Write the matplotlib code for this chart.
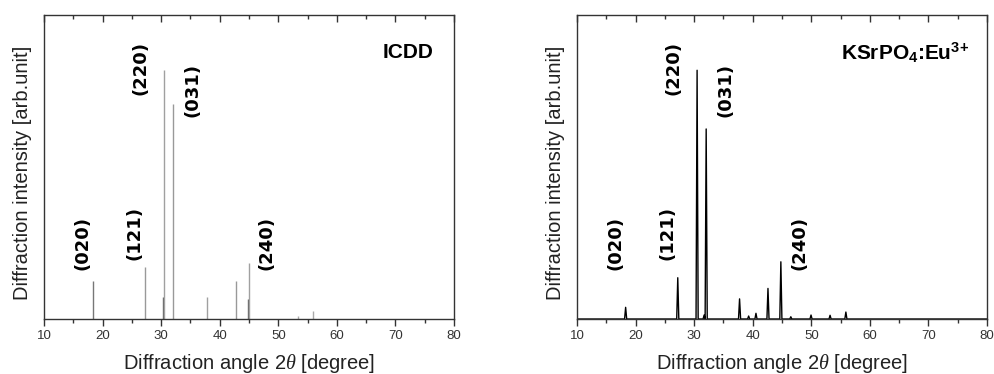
import matplotlib
matplotlib.use("Agg")
import matplotlib.pyplot as plt
from matplotlib.ticker import MultipleLocator

plt.rcParams["font.family"] = ["Liberation Sans", "DejaVu Sans"]
plt.rcParams["mathtext.fontset"] = "custom"
plt.rcParams["mathtext.rm"] = "Liberation Sans"
plt.rcParams["mathtext.bf"] = "Liberation Sans:bold"
plt.rcParams["mathtext.it"] = "Liberation Serif:italic"

# ICDD reference pattern (stick positions, relative intensity)
icdd_angle = [18.4, 27.3, 30.35, 30.55, 32.1, 37.9, 42.7, 44.85, 44.95, 53.3, 56.0]
icdd_intensity = [15.4, 21.0, 9.0, 100.0, 86.6, 9.0, 15.4, 7.9, 22.4, 1.2, 3.3]

# measured KSrPO4:Eu3+ peaks
meas_angle = [18.3, 27.2, 30.5, 31.7, 32.05, 37.75, 39.3, 40.55, 42.6, 44.8, 46.5, 49.95, 53.2, 55.9]
meas_intensity = [4.7, 16.6, 100.0, 1.6, 76.4, 8.1, 1.2, 2.3, 12.3, 23.0, 0.9, 1.6, 1.5, 2.8]

hkl_labels = ["(020)", "(121)", "(220)", "(031)", "(240)"]
hkl_x = [16.5, 25.5, 26.5, 35.4, 48.0]
hkl_y = [19.8, 23.8, 89.9, 81.2, 19.8]

XMIN, XMAX = 10, 80
YMAX = 122.2
STICK_COLORS = ["#777777", "#999999", "#666666", "#a0a0a0", "#999999",
                "#a0a0a0", "#999999", "#666666", "#a0a0a0", "#aaaaaa", "#aaaaaa"]


def profile(angles, heights, half_width=0.18):
    xs, ys = [XMIN], [0.0]
    for a, h in zip(angles, heights):
        xs += [a - half_width, a, a + half_width]
        ys += [0.0, h, 0.0]
    xs.append(XMAX)
    ys.append(0.0)
    return xs, ys


def style_axes(ax):
    ax.set_xlim(XMIN, XMAX)
    ax.set_ylim(0, YMAX)
    ax.set_yticks([])
    ax.xaxis.set_major_locator(MultipleLocator(10))
    ax.xaxis.set_minor_locator(MultipleLocator(5))
    ax.tick_params(axis="x", which="both", direction="out", colors="#333333",
                   labelcolor="#333333", labelsize=9.5, width=1.0)
    ax.tick_params(axis="x", which="major", length=5, pad=3)
    ax.tick_params(axis="x", which="minor", length=3)
    for sp in ax.spines.values():
        sp.set_color("#333333")
        sp.set_linewidth(1.0)
    top = ax.secondary_xaxis("top")
    top.xaxis.set_major_locator(MultipleLocator(10))
    top.xaxis.set_minor_locator(MultipleLocator(5))
    top.tick_params(axis="x", which="both", direction="in", labeltop=False,
                    colors="#333333", width=1.0)
    top.tick_params(axis="x", which="major", length=5)
    top.tick_params(axis="x", which="minor", length=3)
    top.spines["top"].set_visible(False)

    ax.set_xlabel(r"Diffraction angle 2$\theta$ [degree]", fontsize=14.5, color="#222222")
    ax.set_ylabel("Diffraction intensity [arb.unit]", fontsize=14.5, color="#222222")
    ax.xaxis.set_label_coords(0.5, -0.11)
    ax.yaxis.set_label_coords(-0.03, 0.48)

    for lab, x, y in zip(hkl_labels, hkl_x, hkl_y):
        ax.text(x, y, lab, rotation=90, ha="center", va="bottom",
                fontsize=13, fontweight="bold", family="DejaVu Sans")


fig = plt.figure(figsize=(9.94, 3.74), dpi=100)
ax1 = fig.add_axes([0.0443, 0.147, 0.4125, 0.8128])
ax2 = fig.add_axes([0.5805, 0.147, 0.4125, 0.8128])

ax1.vlines(icdd_angle, 0, icdd_intensity, colors=STICK_COLORS, linewidth=1.0)
style_axes(ax1)
ax1.text(76.5, 107, "ICDD", ha="right", va="center", fontsize=15, fontweight="bold")

px, py = profile(meas_angle, meas_intensity)
ax2.plot(px, py, color="black", linewidth=1.0)
style_axes(ax2)
ax2.text(76.9, 107, r"KSrPO$_{\mathbf{4}}$:Eu$^{\mathbf{3{+}}}$", ha="right", va="center",
         fontsize=15, fontweight="bold")

fig.savefig("out.png", dpi=100)
